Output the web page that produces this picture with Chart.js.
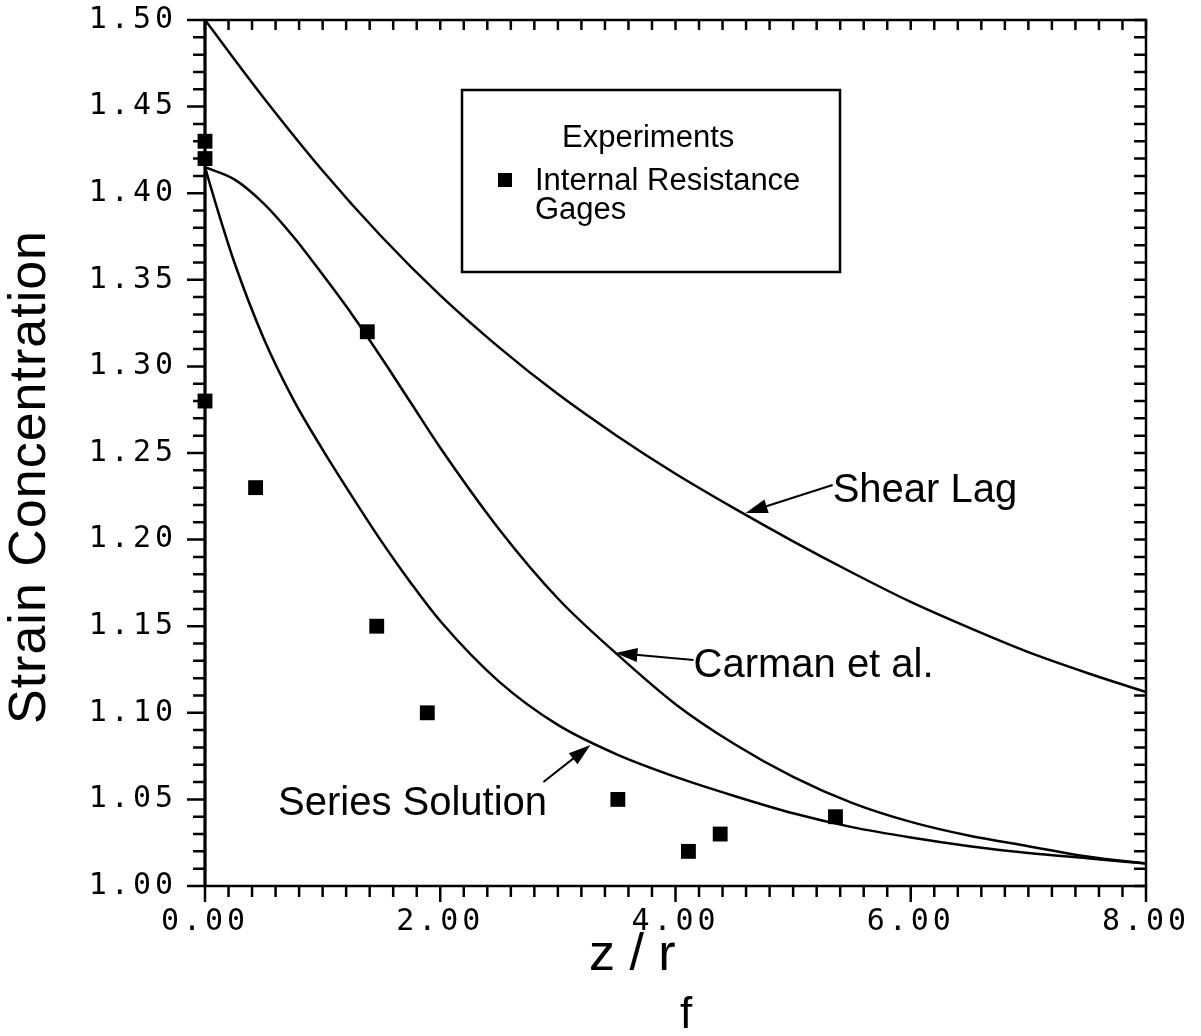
<!DOCTYPE html>
<html>
<head>
<meta charset="utf-8">
<script src="https://cdn.jsdelivr.net/npm/chart.js@4.4.1/dist/chart.umd.min.js"></script>
<style>
html, body { margin: 0; padding: 0; background: #fff; }
</style>
</head>
<body>
<canvas id="grafica" width="1201" height="1036"></canvas>
<script>
// experimentos (galgas de resistencia internas)
const gagesX = [0, 0, 0, 0.43, 1.38, 1.46, 1.89, 3.51, 4.11, 4.38, 5.36];
const gagesY = [1.43, 1.42, 1.28, 1.23, 1.32, 1.15, 1.10, 1.05, 1.02, 1.03, 1.04];

// curvas teoricas
const shearX = [0, 0.5, 1, 1.5, 2, 2.5, 3, 3.5, 4, 4.5, 5, 5.5, 6, 6.5, 7, 7.5, 8];
const shearY = [1.500, 1.455, 1.413, 1.375, 1.341, 1.311, 1.284, 1.260, 1.238, 1.218, 1.199, 1.181, 1.164, 1.149, 1.135, 1.123, 1.112];

const carmanX = [0, 0.25, 0.5, 0.75, 1, 1.25, 1.5, 1.75, 2, 2.5, 3, 3.5, 4, 4.5, 5, 5.5, 6, 6.5, 7, 7.5, 8];
const carmanY = [1.415, 1.408, 1.394, 1.375, 1.353, 1.330, 1.305, 1.279, 1.253, 1.206, 1.166, 1.134, 1.105, 1.082, 1.063, 1.048, 1.037, 1.029, 1.023, 1.017, 1.013];

const seriesX = [0, 0.1, 0.25, 0.5, 0.75, 1, 1.25, 1.5, 1.75, 2, 2.5, 3, 3.5, 4, 4.5, 5, 5.5, 6, 6.5, 7, 7.5, 8];
const seriesY = [1.415, 1.392, 1.360, 1.316, 1.281, 1.252, 1.225, 1.199, 1.175, 1.153, 1.118, 1.093, 1.076, 1.063, 1.052, 1.042, 1.034, 1.028, 1.023, 1.019, 1.016, 1.013];

// etiquetas de ejes
const xTicks = [0, 2, 4, 6, 8];
const yTicks = [1.00, 1.05, 1.10, 1.15, 1.20, 1.25, 1.30, 1.35, 1.40, 1.45, 1.50];

// rotulos con flecha: texto en (tx,ty), flecha de (ax,ay) a (px,py), en unidades de datos
const rotulos = [
    { texto: 'Shear Lag', tx: 5.336, ty: 1.2217, ax: 5.336, ay: 1.2315, px: 4.596, py: 1.2154 },
    { texto: 'Carman et al.', tx: 4.153, ty: 1.1207, ax: 4.153, ay: 1.1305, px: 3.489, py: 1.1345 },
    { texto: 'Series Solution', tx: 0.621, ty: 1.041, ax: 2.877, ay: 1.060, px: 3.277, py: 1.0814 }
];

const aPuntos = (xs, ys) => xs.map((x, i) => ({ x: x, y: ys[i] }));

const SANS = "'Liberation Sans', Arial, Helvetica, sans-serif";
const MONO = "'DejaVu Sans Mono', monospace";

function flecha(ctx, x1, y1, x2, y2) {
    const ang = Math.atan2(y2 - y1, x2 - x1);
    const largo = 22, ancho = 7;
    ctx.beginPath();
    ctx.moveTo(x1, y1);
    ctx.lineTo(x2 - Math.cos(ang) * largo * 0.8, y2 - Math.sin(ang) * largo * 0.8);
    ctx.stroke();
    ctx.beginPath();
    ctx.moveTo(x2, y2);
    ctx.lineTo(x2 - Math.cos(ang) * largo + Math.sin(ang) * ancho, y2 - Math.sin(ang) * largo - Math.cos(ang) * ancho);
    ctx.lineTo(x2 - Math.cos(ang) * largo - Math.sin(ang) * ancho, y2 - Math.sin(ang) * largo + Math.cos(ang) * ancho);
    ctx.closePath();
    ctx.fill();
}

const marco = {
    id: 'marco',
    beforeDraw(chart) {
        // espaciado de las etiquetas numericas
        chart.ctx.letterSpacing = '4px';
    },
    afterDraw(chart) {
        const ctx = chart.ctx;
        const a = chart.chartArea;
        const sx = chart.scales.x, sy = chart.scales.y;
        ctx.save();
        ctx.letterSpacing = '0px';
        ctx.strokeStyle = '#000';
        ctx.fillStyle = '#000';
        ctx.lineCap = 'butt';

        // marco
        ctx.lineWidth = 2.5;
        ctx.strokeRect(a.left, a.top, a.right - a.left, a.bottom - a.top);
        ctx.lineWidth = 3;
        ctx.beginPath();
        ctx.moveTo(a.left, a.top);
        ctx.lineTo(a.left, a.bottom);
        ctx.stroke();

        // marcas del eje x (cada 0.2)
        ctx.lineWidth = 2.5;
        for (let i = 0; i <= 40; i++) {
            const px = sx.getPixelForValue(i * 0.2);
            const mayor = i % 10 === 0;
            ctx.beginPath();
            ctx.moveTo(px, a.bottom);
            ctx.lineTo(px, a.bottom + (mayor ? 16 : 11));
            ctx.moveTo(px, a.top);
            ctx.lineTo(px, a.top + 10);
            ctx.stroke();
        }
        // marcas del eje y (cada 0.01)
        for (let i = 0; i <= 50; i++) {
            const py = sy.getPixelForValue(1 + i * 0.01);
            const mayor = i % 5 === 0;
            ctx.beginPath();
            ctx.moveTo(a.left - (mayor ? 18 : 12), py);
            ctx.lineTo(a.left, py);
            ctx.moveTo(a.right - 12, py);
            ctx.lineTo(a.right, py);
            ctx.stroke();
        }

        // rotulos de curvas
        ctx.font = '40px ' + SANS;
        ctx.textAlign = 'left';
        ctx.textBaseline = 'alphabetic';
        ctx.lineWidth = 2;
        rotulos.forEach(r => {
            ctx.fillText(r.texto, sx.getPixelForValue(r.tx), sy.getPixelForValue(r.ty));
            flecha(ctx, sx.getPixelForValue(r.ax), sy.getPixelForValue(r.ay),
                sx.getPixelForValue(r.px), sy.getPixelForValue(r.py));
        });

        // cuadro de leyenda
        ctx.lineWidth = 2.5;
        ctx.strokeRect(462, 90, 378, 182);
        ctx.font = '31px ' + SANS;
        ctx.fillText('Experiments', 562, 147);
        ctx.fillText('Internal Resistance', 535, 190);
        ctx.fillText('Gages', 535, 219);
        ctx.fillRect(498, 173, 14, 14);

        // titulo eje y
        ctx.save();
        ctx.translate(31, 477);
        ctx.rotate(-Math.PI / 2);
        ctx.font = '52px ' + SANS;
        ctx.letterSpacing = '1px';
        ctx.textAlign = 'center';
        ctx.textBaseline = 'middle';
        ctx.fillText('Strain Concentration', 0, 0);
        ctx.restore();

        // titulo eje x: z / r con subindice f
        ctx.font = '52px ' + SANS;
        ctx.textAlign = 'left';
        ctx.fillText('z / r', 589, 970);
        ctx.font = '44px ' + SANS;
        ctx.fillText('f', 680, 1028);

        ctx.restore();
    }
};

function sinRelleno(scale) {
    scale.paddingTop = 0;
    scale.paddingBottom = 0;
    scale.paddingLeft = 0;
    scale.paddingRight = 0;
}

const ctx = document.getElementById('grafica').getContext('2d');
const myChart = new Chart(ctx, {
    type: 'scatter',
    data: {
        datasets: [
            {
                label: 'Internal Resistance Gages',
                data: aPuntos(gagesX, gagesY),
                pointStyle: 'rect',
                pointRadius: 10.5,
                backgroundColor: '#000',
                borderWidth: 0,
                showLine: false,
                clip: false
            },
            {
                label: 'Shear Lag',
                data: aPuntos(shearX, shearY),
                showLine: true,
                pointRadius: 0,
                borderColor: '#000',
                borderWidth: 2.5,
                cubicInterpolationMode: 'monotone'
            },
            {
                label: 'Carman et al.',
                data: aPuntos(carmanX, carmanY),
                showLine: true,
                pointRadius: 0,
                borderColor: '#000',
                borderWidth: 2.5,
                cubicInterpolationMode: 'monotone'
            },
            {
                label: 'Series Solution',
                data: aPuntos(seriesX, seriesY),
                showLine: true,
                pointRadius: 0,
                borderColor: '#000',
                borderWidth: 2.5,
                cubicInterpolationMode: 'monotone'
            }
        ]
    },
    options: {
        responsive: false,
        animation: false,
        devicePixelRatio: 1,
        layout: { padding: { left: 0, right: 55, top: 20, bottom: 0 } },
        plugins: {
            legend: { display: false },
            tooltip: { enabled: false }
        },
        scales: {
            x: {
                type: 'linear',
                min: 0,
                max: 8,
                afterFit: function(scale) { scale.height = 150; sinRelleno(scale); },
                afterBuildTicks: function(scale) { scale.ticks = xTicks.map(v => ({ value: v })); },
                ticks: {
                    color: '#000',
                    padding: 18,
                    maxRotation: 0,
                    autoSkip: false,
                    font: { family: MONO, size: 30 },
                    callback: v => v.toFixed(2)
                },
                grid: { display: false, drawTicks: false },
                border: { display: false }
            },
            y: {
                type: 'linear',
                min: 1,
                max: 1.5,
                afterFit: function(scale) { scale.width = 205; sinRelleno(scale); },
                afterBuildTicks: function(scale) { scale.ticks = yTicks.map(v => ({ value: v })); },
                ticks: {
                    color: '#000',
                    padding: 28,
                    autoSkip: false,
                    font: { family: MONO, size: 30 },
                    callback: v => v.toFixed(2)
                },
                grid: { display: false, drawTicks: false },
                border: { display: false }
            }
        }
    },
    plugins: [marco]
});
</script>
</body>
</html>
